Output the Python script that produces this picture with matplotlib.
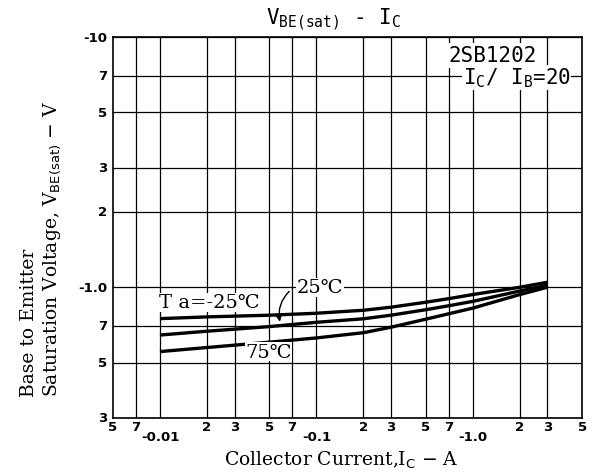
import matplotlib
matplotlib.use("Agg")
import matplotlib.pyplot as plt
from matplotlib.transforms import blended_transform_factory

# 数据：集电极电流 (A) 与饱和电压 (V)
ic = [0.01, 0.02, 0.05, 0.1, 0.2, 0.3, 0.5, 0.7, 1.0, 2.0, 3.0]
vbe_m25 = [0.749, 0.761, 0.773, 0.787, 0.809, 0.832, 0.871, 0.90, 0.935, 1.0, 1.047]
vbe_25 = [0.644, 0.667, 0.696, 0.724, 0.748, 0.773, 0.813, 0.843, 0.878, 0.966, 1.019]
vbe_75 = [0.553, 0.574, 0.603, 0.627, 0.658, 0.692, 0.745, 0.783, 0.825, 0.935, 1.0]

x_grid = [0.007, 0.01, 0.02, 0.03, 0.05, 0.07, 0.1, 0.2, 0.3, 0.5, 0.7, 1.0, 2.0, 3.0, 5.0]
x_ticks = [0.005, 0.007, 0.01, 0.02, 0.03, 0.05, 0.07, 0.1, 0.2, 0.3, 0.5, 0.7, 1.0, 2.0, 3.0, 5.0]
x_labels = ["5", "7", "-0.01", "2", "3", "5", "7", "-0.1", "2", "3", "5", "7", "-1.0", "2", "3", "5"]
y_ticks = [0.3, 0.5, 0.7, 1.0, 2.0, 3.0, 5.0, 7.0, 10.0]
y_labels = ["3", "5", "7", "-1.0", "2", "3", "5", "7", "-10"]

fig = plt.figure(figsize=(5.94, 4.77), dpi=100)
ax = fig.add_axes([0.190, 0.1216, 0.790, 0.7984])
ax.set_xscale("log")
ax.set_yscale("log")
ax.set_xlim(0.005, 5)
ax.set_ylim(0.3, 10)

# 网格线
for gx in x_grid:
    ax.axvline(gx, color="black", lw=0.9, zorder=1)
for gy in y_ticks:
    ax.axhline(gy, color="black", lw=0.9, zorder=1)

for s in ax.spines.values():
    s.set_linewidth(1.2)

# 曲线
for v in (vbe_m25, vbe_25, vbe_75):
    ax.plot(ic, v, color="black", lw=2.4, solid_capstyle="butt",
            solid_joinstyle="round", zorder=3)

# 刻度标签
ax.set_xticks([])
ax.set_yticks([])
ax.minorticks_off()
ax.tick_params(which="both", length=0)
tb = blended_transform_factory(ax.transData, ax.transAxes)
for xv, lab in zip(x_ticks, x_labels):
    if lab.startswith("-"):
        ax.text(xv, -0.032, lab, transform=tb, ha="center", va="top",
                fontsize=9.5, fontweight="bold")
    else:
        ax.text(xv, -0.006, lab, transform=tb, ha="center", va="top",
                fontsize=9.5, fontweight="bold")
ty = blended_transform_factory(ax.transAxes, ax.transData)
for yv, lab in zip(y_ticks, y_labels):
    ax.text(-0.012, yv, lab, transform=ty, ha="right", va="center",
            fontsize=9.5, fontweight="bold")

# 标题与注释
fig.text(0.561, 0.958, r"V$_{\mathtt{BE(sat)}}$ - I$_{\mathtt{C}}$", ha="center",
         va="center", fontsize=15, family="DejaVu Sans Mono")
ax.text(0.904, 0.952, "2SB1202", transform=ax.transAxes, ha="right", va="center",
        fontsize=15, family="DejaVu Sans Mono",
        bbox=dict(facecolor="white", edgecolor="none", pad=1.5))
ax.text(0.975, 0.895, r"I$_{\mathtt{C}}$/ I$_{\mathtt{B}}$=20", transform=ax.transAxes,
        ha="right", va="center", fontsize=15, family="DejaVu Sans Mono",
        bbox=dict(facecolor="white", edgecolor="none", pad=0.5))

ax.text(0.0098, 0.87, "T a=-25℃", fontsize=14, family="DejaVu Serif", ha="left",
        va="center", bbox=dict(facecolor="white", edgecolor="none", pad=0.3), zorder=4)
ax.text(0.075, 1.0, "25℃", fontsize=14, family="DejaVu Serif", ha="left",
        va="center", bbox=dict(facecolor="white", edgecolor="none", pad=0.3), zorder=4)
ax.annotate("", xy=(0.059, 0.71), xytext=(0.069, 0.98),
            arrowprops=dict(arrowstyle="-|>", color="black", lw=1.0,
                            connectionstyle="arc3,rad=0.3"), zorder=4)
ax.text(0.035, 0.553, "75℃", fontsize=14, family="DejaVu Serif", ha="left",
        va="center", bbox=dict(facecolor="white", edgecolor="none", pad=0.3), zorder=4)

# 坐标轴标题
fig.text(0.574, 0.035, r"Collector Current,I$_{\rm C}$ $-$ A", family="DejaVu Serif",
         fontsize=13.5, ha="center", va="center")
fig.text(0.048, 0.168, "Base to Emitter", rotation=90, ha="center", va="bottom",
         family="DejaVu Serif", fontsize=13.5)
fig.text(0.088, 0.168, r"Saturation Voltage, V$_{\rm BE(sat)}$ $-$ V", rotation=90,
         ha="center", va="bottom", family="DejaVu Serif", fontsize=13.5)

fig.savefig("out.png", dpi=100)
